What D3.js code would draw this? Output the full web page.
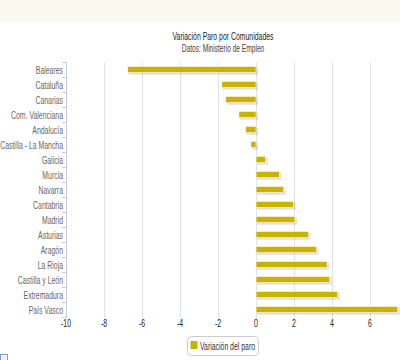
<!DOCTYPE html>
<html><head><meta charset="utf-8">
<script src="https://cdn.jsdelivr.net/npm/d3@7"></script>
<style>body{margin:0;background:#fff}svg{display:block}</style>
</head><body>
<script>
const categories = ["Baleares","Cataluña","Canarias","Com. Valenciana","Andalucía","Castilla - La Mancha","Galicia","Murcia","Navarra","Cantabria","Madrid","Asturias","Aragón","La Rioja","Castilla y León","Extremadura","País Vasco"];
const values = [-6.75,-1.8,-1.6,-0.9,-0.55,-0.27,0.5,1.23,1.45,1.97,2.05,2.76,3.18,3.74,3.88,4.3,7.46];
const xTicks = [-10,-8,-6,-4,-2,0,2,4,6];
const seriesName = "Variación del paro";
const title = "Variación Paro por Comunidades";
const subtitle = "Datos: Ministerio de Empleo";

const W=400,H=360, SX=0.6;
const font = "'Liberation Sans',Arial,sans-serif";
const svg = d3.select("body").append("svg").attr("width",W).attr("height",H);
svg.append("rect").attr("x",0).attr("y",0).attr("width",W).attr("height",22).attr("fill","#f9f9ef");

function label(g, tx, ty, txt, size, fill, anchor){
  return g.append("text").attr("transform",`translate(${tx},${ty}) scale(${SX},1)`)
    .attr("text-anchor",anchor).attr("font-family",font).attr("font-size",size).attr("fill",fill).text(txt);
}

const x = d3.scaleLinear().domain([-10,7.5]).range([66,398.5]);
const y = d3.scaleBand().domain(categories).range([62,317]).paddingInner(0.58).paddingOuter(0.29);

// grid
svg.append("g").selectAll("line").data(xTicks).join("line")
  .attr("x1",d=>x(d)+0.5).attr("x2",d=>x(d)+0.5).attr("y1",62).attr("y2",320)
  .attr("stroke","#e2e2e2").attr("stroke-width",1);

// x axis labels
const xg = svg.append("g");
xTicks.forEach(d=>label(xg, x(d), 327, d, 11.5, "#222", "middle"));

// y axis line & ticks
svg.append("line").attr("x1",66.5).attr("x2",66.5).attr("y1",62).attr("y2",317).attr("stroke","#c0d0e0");
svg.append("g").selectAll("line").data(d3.range(categories.length+1)).join("line")
  .attr("x1",62).attr("x2",66).attr("y1",i=>62+i*255/17+0.5).attr("y2",i=>62+i*255/17+0.5)
  .attr("stroke","#c0d0e0");

const yg = svg.append("g");
categories.forEach(c=>label(yg, 63, y(c)+y.bandwidth()/2+4, c, 11.5, "#666", "end"));

// bars
const bars = svg.append("g");
categories.forEach((c,i)=>{
  const v=values[i];
  const x0=Math.min(x(0),x(v)), w=Math.abs(x(v)-x(0));
  bars.append("rect").attr("x",x0+1).attr("y",y(c)+1).attr("width",w+1).attr("height",y.bandwidth()+1).attr("fill","#000").attr("opacity",0.12);
  bars.append("rect").attr("x",x0).attr("y",y(c)).attr("width",w).attr("height",y.bandwidth())
    .attr("fill","#c9b300").attr("stroke","#fff").attr("stroke-width",0.6);
});

// titles
label(svg, 223, 40, title, 11.5, "#222", "middle");
label(svg, 223, 52, subtitle, 11, "#444", "middle");

// legend
const lg = svg.append("g");
lg.append("rect").attr("x",187.5).attr("y",336.5).attr("width",71).attr("height",19).attr("rx",4).attr("fill","#fff").attr("stroke","#ccc");
lg.append("rect").attr("x",190.5).attr("y",341).attr("width",7).attr("height",8).attr("fill","#c9b300");
label(lg, 200, 349.5, seriesName, 11.5, "#333", "start");

// small artifact box bottom-left
svg.append("rect").attr("x",0.5).attr("y",354.5).attr("width",7).attr("height",6).attr("fill","#eef4ff").attr("stroke","#7a9fd0");
</script>
</body></html>
